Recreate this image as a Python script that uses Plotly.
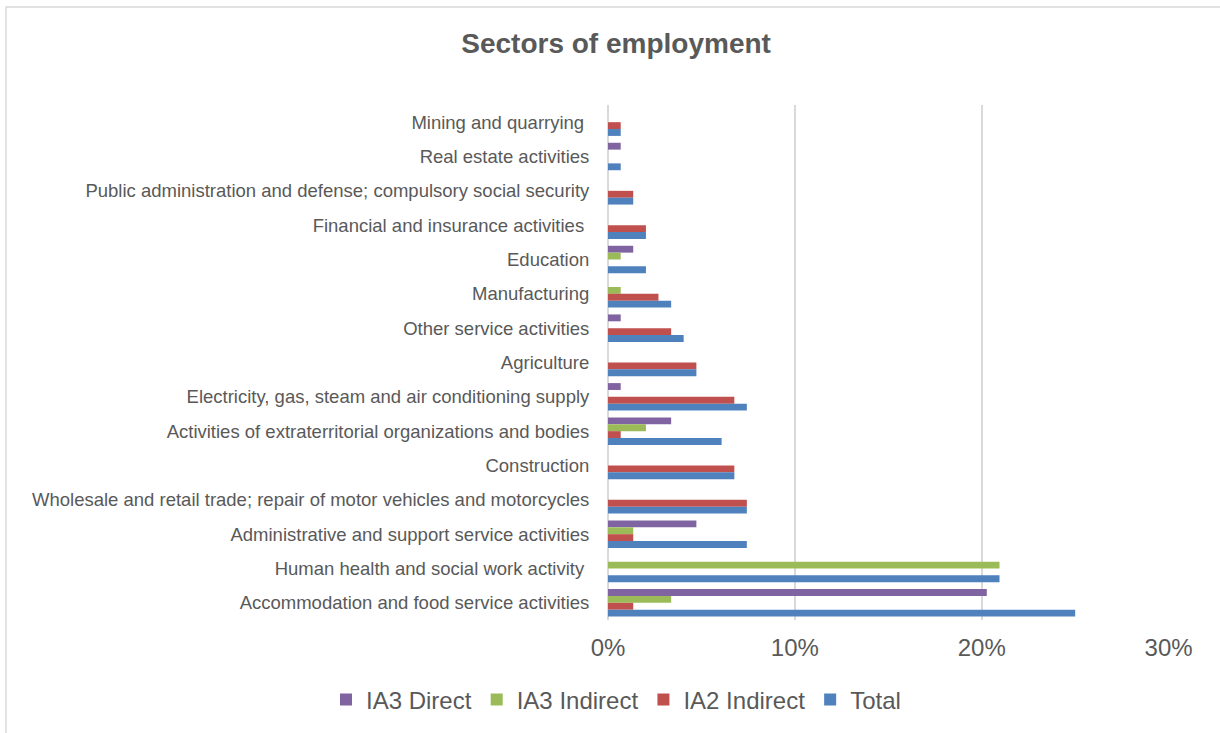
import plotly.graph_objects as go

# Sectors, listed top to bottom as they appear on the chart
sectors = [
    "Mining and quarrying\u00a0",
    "Real estate activities",
    "Public administration and defense; compulsory social security",
    "Financial and insurance activities\u00a0",
    "Education",
    "Manufacturing",
    "Other service activities",
    "Agriculture",
    "Electricity, gas, steam and air conditioning supply",
    "Activities of extraterritorial organizations and bodies",
    "Construction",
    "Wholesale and retail trade; repair of motor vehicles and motorcycles",
    "Administrative and support service activities",
    "Human health and social work activity\u00a0",
    "Accommodation and food service activities",
]

# Share of respondents per sector (%)
ia3_direct = [0, 0.68, 0, 0, 1.35, 0, 0.68, 0, 0.68, 3.38, 0, 0, 4.73, 0, 20.27]
ia3_indirect = [0, 0, 0, 0, 0.68, 0.68, 0, 0, 0, 2.03, 0, 0, 1.35, 20.95, 3.38]
ia2_indirect = [0.68, 0, 1.35, 2.03, 0, 2.70, 3.38, 4.73, 6.76, 0.68, 6.76, 7.43, 1.35, 0, 1.35]
total = [0.68, 0.68, 1.35, 2.03, 2.03, 3.38, 4.05, 4.73, 7.43, 6.08, 6.76, 7.43, 7.43, 20.95, 25.0]

x_ticks = [0, 10, 20, 30]
x_tick_labels = ["0%", "10%", "20%", "30%"]

series = [
    ("IA3 Direct", ia3_direct, "#8064A2"),
    ("IA3 Indirect", ia3_indirect, "#9BBB59"),
    ("IA2 Indirect", ia2_indirect, "#C0504D"),
    ("Total", total, "#4F81BD"),
]

TEXT = "#595959"
FONT = "Liberation Sans, Arial, sans-serif"

# plot area in pixels
PL, PR, PT, PB = 608, 1169, 105, 620
PW, PH = PR - PL, PB - PT

fig = go.Figure()
for name, vals, color in series:
    fig.add_trace(go.Bar(
        y=sectors, x=vals, name=name, orientation="h",
        marker=dict(color=color, line=dict(width=0)),
    ))

fig.update_layout(
    width=1220, height=733,
    margin=dict(l=PL, r=1220 - PR, t=PT, b=733 - PB, autoexpand=False),
    paper_bgcolor="white", plot_bgcolor="white",
    barmode="group", bargap=0.2, bargroupgap=0,
    font=dict(family=FONT, color=TEXT),
    title=dict(
        text="<b>Sectors of employment</b>",
        x=0.505, xref="container", xanchor="center",
        y=1 - 43 / 733, yref="container", yanchor="middle",
        font=dict(size=28, color=TEXT, family=FONT),
    ),
    xaxis=dict(
        range=[0, 30.02], tickmode="array", tickvals=x_ticks, ticktext=x_tick_labels,
        showgrid=True, gridcolor="#d9d9d9", gridwidth=2,
        zeroline=True, zerolinecolor="#d9d9d9", zerolinewidth=2,
        showline=False, ticks="outside", ticklen=6, tickcolor="rgba(0,0,0,0)",
        tickfont=dict(size=24, color=TEXT, family=FONT),
        fixedrange=True,
    ),
    yaxis=dict(
        autorange="reversed", showgrid=False, zeroline=False, showline=False,
        ticks="outside", ticklen=14, tickcolor="rgba(0,0,0,0)",
        tickfont=dict(size=18.5, color=TEXT, family=FONT),
        fixedrange=True,
    ),
    legend=dict(
        orientation="h", xref="paper", x=(326 - PL) / PW, xanchor="left",
        yref="paper", y=(PB - 700) / PH, yanchor="middle",
        font=dict(size=24, color=TEXT, family=FONT),
        itemwidth=30, tracegroupgap=0,
    ),
    shapes=[dict(
        type="rect", xref="paper", yref="paper",
        x0=(6 - PL) / PW, x1=(1230 - PL) / PW,
        y0=(PB - 745) / PH, y1=(PB - 7) / PH,
        line=dict(color="#d9d9d9", width=1.5), fillcolor="rgba(0,0,0,0)",
        layer="below",
    )],
)

fig.write_html("out.html")
